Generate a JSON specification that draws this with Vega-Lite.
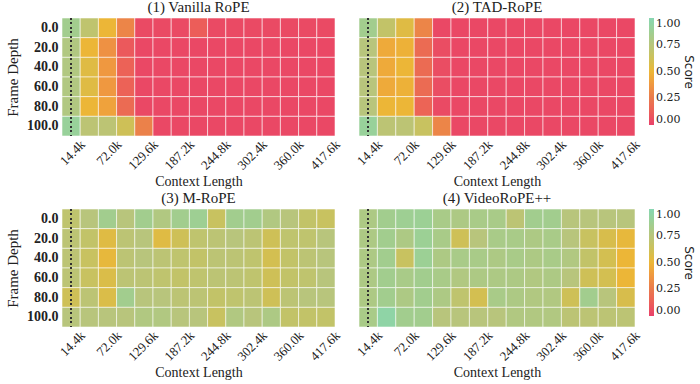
{
  "$schema": "https://vega.github.io/schema/vega-lite/v6.json",
  "padding": {"left": 5, "top": 0, "right": 0, "bottom": 2},
  "background": "white",
  "config": {
    "font": "Liberation Serif",
    "view": {"stroke": null},
    "title": {"font": "Liberation Serif", "fontSize": 15, "fontWeight": "normal", "color": "#222", "offset": 2},
    "axis": {"labelFont": "Liberation Serif", "titleFont": "Liberation Serif", "labelColor": "#222", "titleColor": "#222", "domain": false, "ticks": false, "titleFontWeight": "normal"},
    "legend": {"labelFont": "DejaVu Serif", "titleFont": "DejaVu Sans", "labelColor": "#222", "titleColor": "#222"}
  },
  "datasets": {
    "h": [
      {"p":1,"d":"0.0","c":"14.4k","s":0.85},{"p":1,"d":"0.0","c":"43.2k","s":0.7},{"p":1,"d":"0.0","c":"72.0k","s":0.5},{"p":1,"d":"0.0","c":"100.8k","s":0.3},{"p":1,"d":"0.0","c":"129.6k","s":0.04},{"p":1,"d":"0.0","c":"158.4k","s":0.04},{"p":1,"d":"0.0","c":"187.2k","s":0.04},{"p":1,"d":"0.0","c":"216.0k","s":0.12},{"p":1,"d":"0.0","c":"244.8k","s":0.04},{"p":1,"d":"0.0","c":"273.6k","s":0.04},{"p":1,"d":"0.0","c":"302.4k","s":0.04},{"p":1,"d":"0.0","c":"331.2k","s":0.04},{"p":1,"d":"0.0","c":"360.0k","s":0.04},{"p":1,"d":"0.0","c":"388.8k","s":0.04},{"p":1,"d":"0.0","c":"417.6k","s":0.04},
      {"p":1,"d":"20.0","c":"14.4k","s":0.78},{"p":1,"d":"20.0","c":"43.2k","s":0.5},{"p":1,"d":"20.0","c":"72.0k","s":0.35},{"p":1,"d":"20.0","c":"100.8k","s":0.1},{"p":1,"d":"20.0","c":"129.6k","s":0.03},{"p":1,"d":"20.0","c":"158.4k","s":0.03},{"p":1,"d":"20.0","c":"187.2k","s":0.03},{"p":1,"d":"20.0","c":"216.0k","s":0.03},{"p":1,"d":"20.0","c":"244.8k","s":0.03},{"p":1,"d":"20.0","c":"273.6k","s":0.03},{"p":1,"d":"20.0","c":"302.4k","s":0.03},{"p":1,"d":"20.0","c":"331.2k","s":0.03},{"p":1,"d":"20.0","c":"360.0k","s":0.03},{"p":1,"d":"20.0","c":"388.8k","s":0.03},{"p":1,"d":"20.0","c":"417.6k","s":0.03},
      {"p":1,"d":"40.0","c":"14.4k","s":0.78},{"p":1,"d":"40.0","c":"43.2k","s":0.55},{"p":1,"d":"40.0","c":"72.0k","s":0.38},{"p":1,"d":"40.0","c":"100.8k","s":0.14},{"p":1,"d":"40.0","c":"129.6k","s":0.03},{"p":1,"d":"40.0","c":"158.4k","s":0.03},{"p":1,"d":"40.0","c":"187.2k","s":0.03},{"p":1,"d":"40.0","c":"216.0k","s":0.03},{"p":1,"d":"40.0","c":"244.8k","s":0.03},{"p":1,"d":"40.0","c":"273.6k","s":0.03},{"p":1,"d":"40.0","c":"302.4k","s":0.03},{"p":1,"d":"40.0","c":"331.2k","s":0.03},{"p":1,"d":"40.0","c":"360.0k","s":0.03},{"p":1,"d":"40.0","c":"388.8k","s":0.03},{"p":1,"d":"40.0","c":"417.6k","s":0.03},
      {"p":1,"d":"60.0","c":"14.4k","s":0.78},{"p":1,"d":"60.0","c":"43.2k","s":0.55},{"p":1,"d":"60.0","c":"72.0k","s":0.38},{"p":1,"d":"60.0","c":"100.8k","s":0.14},{"p":1,"d":"60.0","c":"129.6k","s":0.03},{"p":1,"d":"60.0","c":"158.4k","s":0.03},{"p":1,"d":"60.0","c":"187.2k","s":0.03},{"p":1,"d":"60.0","c":"216.0k","s":0.03},{"p":1,"d":"60.0","c":"244.8k","s":0.03},{"p":1,"d":"60.0","c":"273.6k","s":0.03},{"p":1,"d":"60.0","c":"302.4k","s":0.03},{"p":1,"d":"60.0","c":"331.2k","s":0.03},{"p":1,"d":"60.0","c":"360.0k","s":0.03},{"p":1,"d":"60.0","c":"388.8k","s":0.03},{"p":1,"d":"60.0","c":"417.6k","s":0.03},
      {"p":1,"d":"80.0","c":"14.4k","s":0.78},{"p":1,"d":"80.0","c":"43.2k","s":0.5},{"p":1,"d":"80.0","c":"72.0k","s":0.42},{"p":1,"d":"80.0","c":"100.8k","s":0.18},{"p":1,"d":"80.0","c":"129.6k","s":0.03},{"p":1,"d":"80.0","c":"158.4k","s":0.03},{"p":1,"d":"80.0","c":"187.2k","s":0.03},{"p":1,"d":"80.0","c":"216.0k","s":0.03},{"p":1,"d":"80.0","c":"244.8k","s":0.03},{"p":1,"d":"80.0","c":"273.6k","s":0.03},{"p":1,"d":"80.0","c":"302.4k","s":0.03},{"p":1,"d":"80.0","c":"331.2k","s":0.03},{"p":1,"d":"80.0","c":"360.0k","s":0.03},{"p":1,"d":"80.0","c":"388.8k","s":0.03},{"p":1,"d":"80.0","c":"417.6k","s":0.03},
      {"p":1,"d":"100.0","c":"14.4k","s":0.9},{"p":1,"d":"100.0","c":"43.2k","s":0.72},{"p":1,"d":"100.0","c":"72.0k","s":0.72},{"p":1,"d":"100.0","c":"100.8k","s":0.62},{"p":1,"d":"100.0","c":"129.6k","s":0.28},{"p":1,"d":"100.0","c":"158.4k","s":0.03},{"p":1,"d":"100.0","c":"187.2k","s":0.03},{"p":1,"d":"100.0","c":"216.0k","s":0.03},{"p":1,"d":"100.0","c":"244.8k","s":0.03},{"p":1,"d":"100.0","c":"273.6k","s":0.03},{"p":1,"d":"100.0","c":"302.4k","s":0.03},{"p":1,"d":"100.0","c":"331.2k","s":0.03},{"p":1,"d":"100.0","c":"360.0k","s":0.03},{"p":1,"d":"100.0","c":"388.8k","s":0.03},{"p":1,"d":"100.0","c":"417.6k","s":0.03},

      {"p":2,"d":"0.0","c":"14.4k","s":0.85},{"p":2,"d":"0.0","c":"43.2k","s":0.68},{"p":2,"d":"0.0","c":"72.0k","s":0.55},{"p":2,"d":"0.0","c":"100.8k","s":0.3},{"p":2,"d":"0.0","c":"129.6k","s":0.03},{"p":2,"d":"0.0","c":"158.4k","s":0.03},{"p":2,"d":"0.0","c":"187.2k","s":0.03},{"p":2,"d":"0.0","c":"216.0k","s":0.03},{"p":2,"d":"0.0","c":"244.8k","s":0.03},{"p":2,"d":"0.0","c":"273.6k","s":0.03},{"p":2,"d":"0.0","c":"302.4k","s":0.03},{"p":2,"d":"0.0","c":"331.2k","s":0.03},{"p":2,"d":"0.0","c":"360.0k","s":0.03},{"p":2,"d":"0.0","c":"388.8k","s":0.03},{"p":2,"d":"0.0","c":"417.6k","s":0.03},
      {"p":2,"d":"20.0","c":"14.4k","s":0.75},{"p":2,"d":"20.0","c":"43.2k","s":0.45},{"p":2,"d":"20.0","c":"72.0k","s":0.48},{"p":2,"d":"20.0","c":"100.8k","s":0.18},{"p":2,"d":"20.0","c":"129.6k","s":0.05},{"p":2,"d":"20.0","c":"158.4k","s":0.03},{"p":2,"d":"20.0","c":"187.2k","s":0.03},{"p":2,"d":"20.0","c":"216.0k","s":0.03},{"p":2,"d":"20.0","c":"244.8k","s":0.03},{"p":2,"d":"20.0","c":"273.6k","s":0.03},{"p":2,"d":"20.0","c":"302.4k","s":0.03},{"p":2,"d":"20.0","c":"331.2k","s":0.03},{"p":2,"d":"20.0","c":"360.0k","s":0.03},{"p":2,"d":"20.0","c":"388.8k","s":0.03},{"p":2,"d":"20.0","c":"417.6k","s":0.03},
      {"p":2,"d":"40.0","c":"14.4k","s":0.75},{"p":2,"d":"40.0","c":"43.2k","s":0.45},{"p":2,"d":"40.0","c":"72.0k","s":0.5},{"p":2,"d":"40.0","c":"100.8k","s":0.18},{"p":2,"d":"40.0","c":"129.6k","s":0.05},{"p":2,"d":"40.0","c":"158.4k","s":0.03},{"p":2,"d":"40.0","c":"187.2k","s":0.03},{"p":2,"d":"40.0","c":"216.0k","s":0.03},{"p":2,"d":"40.0","c":"244.8k","s":0.03},{"p":2,"d":"40.0","c":"273.6k","s":0.03},{"p":2,"d":"40.0","c":"302.4k","s":0.03},{"p":2,"d":"40.0","c":"331.2k","s":0.03},{"p":2,"d":"40.0","c":"360.0k","s":0.03},{"p":2,"d":"40.0","c":"388.8k","s":0.03},{"p":2,"d":"40.0","c":"417.6k","s":0.03},
      {"p":2,"d":"60.0","c":"14.4k","s":0.75},{"p":2,"d":"60.0","c":"43.2k","s":0.45},{"p":2,"d":"60.0","c":"72.0k","s":0.48},{"p":2,"d":"60.0","c":"100.8k","s":0.18},{"p":2,"d":"60.0","c":"129.6k","s":0.05},{"p":2,"d":"60.0","c":"158.4k","s":0.03},{"p":2,"d":"60.0","c":"187.2k","s":0.03},{"p":2,"d":"60.0","c":"216.0k","s":0.03},{"p":2,"d":"60.0","c":"244.8k","s":0.03},{"p":2,"d":"60.0","c":"273.6k","s":0.03},{"p":2,"d":"60.0","c":"302.4k","s":0.03},{"p":2,"d":"60.0","c":"331.2k","s":0.03},{"p":2,"d":"60.0","c":"360.0k","s":0.03},{"p":2,"d":"60.0","c":"388.8k","s":0.03},{"p":2,"d":"60.0","c":"417.6k","s":0.03},
      {"p":2,"d":"80.0","c":"14.4k","s":0.75},{"p":2,"d":"80.0","c":"43.2k","s":0.5},{"p":2,"d":"80.0","c":"72.0k","s":0.5},{"p":2,"d":"80.0","c":"100.8k","s":0.15},{"p":2,"d":"80.0","c":"129.6k","s":0.04},{"p":2,"d":"80.0","c":"158.4k","s":0.03},{"p":2,"d":"80.0","c":"187.2k","s":0.03},{"p":2,"d":"80.0","c":"216.0k","s":0.03},{"p":2,"d":"80.0","c":"244.8k","s":0.03},{"p":2,"d":"80.0","c":"273.6k","s":0.03},{"p":2,"d":"80.0","c":"302.4k","s":0.03},{"p":2,"d":"80.0","c":"331.2k","s":0.03},{"p":2,"d":"80.0","c":"360.0k","s":0.03},{"p":2,"d":"80.0","c":"388.8k","s":0.03},{"p":2,"d":"80.0","c":"417.6k","s":0.03},
      {"p":2,"d":"100.0","c":"14.4k","s":0.9},{"p":2,"d":"100.0","c":"43.2k","s":0.72},{"p":2,"d":"100.0","c":"72.0k","s":0.72},{"p":2,"d":"100.0","c":"100.8k","s":0.65},{"p":2,"d":"100.0","c":"129.6k","s":0.3},{"p":2,"d":"100.0","c":"158.4k","s":0.03},{"p":2,"d":"100.0","c":"187.2k","s":0.03},{"p":2,"d":"100.0","c":"216.0k","s":0.03},{"p":2,"d":"100.0","c":"244.8k","s":0.03},{"p":2,"d":"100.0","c":"273.6k","s":0.03},{"p":2,"d":"100.0","c":"302.4k","s":0.03},{"p":2,"d":"100.0","c":"331.2k","s":0.03},{"p":2,"d":"100.0","c":"360.0k","s":0.03},{"p":2,"d":"100.0","c":"388.8k","s":0.03},{"p":2,"d":"100.0","c":"417.6k","s":0.03},

      {"p":3,"d":"0.0","c":"14.4k","s":0.7},{"p":3,"d":"0.0","c":"43.2k","s":0.75},{"p":3,"d":"0.0","c":"72.0k","s":0.85},{"p":3,"d":"0.0","c":"100.8k","s":0.75},{"p":3,"d":"0.0","c":"129.6k","s":0.85},{"p":3,"d":"0.0","c":"158.4k","s":0.78},{"p":3,"d":"0.0","c":"187.2k","s":0.85},{"p":3,"d":"0.0","c":"216.0k","s":0.87},{"p":3,"d":"0.0","c":"244.8k","s":0.65},{"p":3,"d":"0.0","c":"273.6k","s":0.85},{"p":3,"d":"0.0","c":"302.4k","s":0.85},{"p":3,"d":"0.0","c":"331.2k","s":0.78},{"p":3,"d":"0.0","c":"360.0k","s":0.75},{"p":3,"d":"0.0","c":"388.8k","s":0.68},{"p":3,"d":"0.0","c":"417.6k","s":0.65},
      {"p":3,"d":"20.0","c":"14.4k","s":0.72},{"p":3,"d":"20.0","c":"43.2k","s":0.68},{"p":3,"d":"20.0","c":"72.0k","s":0.55},{"p":3,"d":"20.0","c":"100.8k","s":0.72},{"p":3,"d":"20.0","c":"129.6k","s":0.75},{"p":3,"d":"20.0","c":"158.4k","s":0.55},{"p":3,"d":"20.0","c":"187.2k","s":0.62},{"p":3,"d":"20.0","c":"216.0k","s":0.7},{"p":3,"d":"20.0","c":"244.8k","s":0.72},{"p":3,"d":"20.0","c":"273.6k","s":0.75},{"p":3,"d":"20.0","c":"302.4k","s":0.72},{"p":3,"d":"20.0","c":"331.2k","s":0.62},{"p":3,"d":"20.0","c":"360.0k","s":0.7},{"p":3,"d":"20.0","c":"388.8k","s":0.7},{"p":3,"d":"20.0","c":"417.6k","s":0.75},
      {"p":3,"d":"40.0","c":"14.4k","s":0.72},{"p":3,"d":"40.0","c":"43.2k","s":0.65},{"p":3,"d":"40.0","c":"72.0k","s":0.52},{"p":3,"d":"40.0","c":"100.8k","s":0.72},{"p":3,"d":"40.0","c":"129.6k","s":0.75},{"p":3,"d":"40.0","c":"158.4k","s":0.72},{"p":3,"d":"40.0","c":"187.2k","s":0.7},{"p":3,"d":"40.0","c":"216.0k","s":0.68},{"p":3,"d":"40.0","c":"244.8k","s":0.72},{"p":3,"d":"40.0","c":"273.6k","s":0.72},{"p":3,"d":"40.0","c":"302.4k","s":0.7},{"p":3,"d":"40.0","c":"331.2k","s":0.6},{"p":3,"d":"40.0","c":"360.0k","s":0.68},{"p":3,"d":"40.0","c":"388.8k","s":0.72},{"p":3,"d":"40.0","c":"417.6k","s":0.75},
      {"p":3,"d":"60.0","c":"14.4k","s":0.72},{"p":3,"d":"60.0","c":"43.2k","s":0.65},{"p":3,"d":"60.0","c":"72.0k","s":0.57},{"p":3,"d":"60.0","c":"100.8k","s":0.72},{"p":3,"d":"60.0","c":"129.6k","s":0.72},{"p":3,"d":"60.0","c":"158.4k","s":0.7},{"p":3,"d":"60.0","c":"187.2k","s":0.68},{"p":3,"d":"60.0","c":"216.0k","s":0.7},{"p":3,"d":"60.0","c":"244.8k","s":0.72},{"p":3,"d":"60.0","c":"273.6k","s":0.72},{"p":3,"d":"60.0","c":"302.4k","s":0.7},{"p":3,"d":"60.0","c":"331.2k","s":0.62},{"p":3,"d":"60.0","c":"360.0k","s":0.68},{"p":3,"d":"60.0","c":"388.8k","s":0.7},{"p":3,"d":"60.0","c":"417.6k","s":0.75},
      {"p":3,"d":"80.0","c":"14.4k","s":0.62},{"p":3,"d":"80.0","c":"43.2k","s":0.72},{"p":3,"d":"80.0","c":"72.0k","s":0.57},{"p":3,"d":"80.0","c":"100.8k","s":0.85},{"p":3,"d":"80.0","c":"129.6k","s":0.75},{"p":3,"d":"80.0","c":"158.4k","s":0.75},{"p":3,"d":"80.0","c":"187.2k","s":0.72},{"p":3,"d":"80.0","c":"216.0k","s":0.72},{"p":3,"d":"80.0","c":"244.8k","s":0.68},{"p":3,"d":"80.0","c":"273.6k","s":0.7},{"p":3,"d":"80.0","c":"302.4k","s":0.72},{"p":3,"d":"80.0","c":"331.2k","s":0.62},{"p":3,"d":"80.0","c":"360.0k","s":0.72},{"p":3,"d":"80.0","c":"388.8k","s":0.75},{"p":3,"d":"80.0","c":"417.6k","s":0.75},
      {"p":3,"d":"100.0","c":"14.4k","s":0.75},{"p":3,"d":"100.0","c":"43.2k","s":0.75},{"p":3,"d":"100.0","c":"72.0k","s":0.75},{"p":3,"d":"100.0","c":"100.8k","s":0.75},{"p":3,"d":"100.0","c":"129.6k","s":0.78},{"p":3,"d":"100.0","c":"158.4k","s":0.78},{"p":3,"d":"100.0","c":"187.2k","s":0.75},{"p":3,"d":"100.0","c":"216.0k","s":0.75},{"p":3,"d":"100.0","c":"244.8k","s":0.65},{"p":3,"d":"100.0","c":"273.6k","s":0.78},{"p":3,"d":"100.0","c":"302.4k","s":0.75},{"p":3,"d":"100.0","c":"331.2k","s":0.8},{"p":3,"d":"100.0","c":"360.0k","s":0.68},{"p":3,"d":"100.0","c":"388.8k","s":0.68},{"p":3,"d":"100.0","c":"417.6k","s":0.68},

      {"p":4,"d":"0.0","c":"14.4k","s":0.8},{"p":4,"d":"0.0","c":"43.2k","s":0.85},{"p":4,"d":"0.0","c":"72.0k","s":0.87},{"p":4,"d":"0.0","c":"100.8k","s":0.88},{"p":4,"d":"0.0","c":"129.6k","s":0.82},{"p":4,"d":"0.0","c":"158.4k","s":0.8},{"p":4,"d":"0.0","c":"187.2k","s":0.82},{"p":4,"d":"0.0","c":"216.0k","s":0.82},{"p":4,"d":"0.0","c":"244.8k","s":0.72},{"p":4,"d":"0.0","c":"273.6k","s":0.85},{"p":4,"d":"0.0","c":"302.4k","s":0.85},{"p":4,"d":"0.0","c":"331.2k","s":0.75},{"p":4,"d":"0.0","c":"360.0k","s":0.75},{"p":4,"d":"0.0","c":"388.8k","s":0.75},{"p":4,"d":"0.0","c":"417.6k","s":0.75},
      {"p":4,"d":"20.0","c":"14.4k","s":0.8},{"p":4,"d":"20.0","c":"43.2k","s":0.85},{"p":4,"d":"20.0","c":"72.0k","s":0.8},{"p":4,"d":"20.0","c":"100.8k","s":0.88},{"p":4,"d":"20.0","c":"129.6k","s":0.82},{"p":4,"d":"20.0","c":"158.4k","s":0.62},{"p":4,"d":"20.0","c":"187.2k","s":0.75},{"p":4,"d":"20.0","c":"216.0k","s":0.82},{"p":4,"d":"20.0","c":"244.8k","s":0.82},{"p":4,"d":"20.0","c":"273.6k","s":0.8},{"p":4,"d":"20.0","c":"302.4k","s":0.82},{"p":4,"d":"20.0","c":"331.2k","s":0.75},{"p":4,"d":"20.0","c":"360.0k","s":0.65},{"p":4,"d":"20.0","c":"388.8k","s":0.58},{"p":4,"d":"20.0","c":"417.6k","s":0.52},
      {"p":4,"d":"40.0","c":"14.4k","s":0.8},{"p":4,"d":"40.0","c":"43.2k","s":0.85},{"p":4,"d":"40.0","c":"72.0k","s":0.65},{"p":4,"d":"40.0","c":"100.8k","s":0.88},{"p":4,"d":"40.0","c":"129.6k","s":0.8},{"p":4,"d":"40.0","c":"158.4k","s":0.82},{"p":4,"d":"40.0","c":"187.2k","s":0.82},{"p":4,"d":"40.0","c":"216.0k","s":0.8},{"p":4,"d":"40.0","c":"244.8k","s":0.82},{"p":4,"d":"40.0","c":"273.6k","s":0.8},{"p":4,"d":"40.0","c":"302.4k","s":0.82},{"p":4,"d":"40.0","c":"331.2k","s":0.78},{"p":4,"d":"40.0","c":"360.0k","s":0.68},{"p":4,"d":"40.0","c":"388.8k","s":0.6},{"p":4,"d":"40.0","c":"417.6k","s":0.5},
      {"p":4,"d":"60.0","c":"14.4k","s":0.8},{"p":4,"d":"60.0","c":"43.2k","s":0.85},{"p":4,"d":"60.0","c":"72.0k","s":0.82},{"p":4,"d":"60.0","c":"100.8k","s":0.85},{"p":4,"d":"60.0","c":"129.6k","s":0.82},{"p":4,"d":"60.0","c":"158.4k","s":0.78},{"p":4,"d":"60.0","c":"187.2k","s":0.8},{"p":4,"d":"60.0","c":"216.0k","s":0.8},{"p":4,"d":"60.0","c":"244.8k","s":0.8},{"p":4,"d":"60.0","c":"273.6k","s":0.78},{"p":4,"d":"60.0","c":"302.4k","s":0.8},{"p":4,"d":"60.0","c":"331.2k","s":0.75},{"p":4,"d":"60.0","c":"360.0k","s":0.62},{"p":4,"d":"60.0","c":"388.8k","s":0.6},{"p":4,"d":"60.0","c":"417.6k","s":0.5},
      {"p":4,"d":"80.0","c":"14.4k","s":0.8},{"p":4,"d":"80.0","c":"43.2k","s":0.85},{"p":4,"d":"80.0","c":"72.0k","s":0.8},{"p":4,"d":"80.0","c":"100.8k","s":0.85},{"p":4,"d":"80.0","c":"129.6k","s":0.8},{"p":4,"d":"80.0","c":"158.4k","s":0.7},{"p":4,"d":"80.0","c":"187.2k","s":0.6},{"p":4,"d":"80.0","c":"216.0k","s":0.82},{"p":4,"d":"80.0","c":"244.8k","s":0.8},{"p":4,"d":"80.0","c":"273.6k","s":0.78},{"p":4,"d":"80.0","c":"302.4k","s":0.78},{"p":4,"d":"80.0","c":"331.2k","s":0.62},{"p":4,"d":"80.0","c":"360.0k","s":0.85},{"p":4,"d":"80.0","c":"388.8k","s":0.75},{"p":4,"d":"80.0","c":"417.6k","s":0.58},
      {"p":4,"d":"100.0","c":"14.4k","s":0.82},{"p":4,"d":"100.0","c":"43.2k","s":0.95},{"p":4,"d":"100.0","c":"72.0k","s":0.85},{"p":4,"d":"100.0","c":"100.8k","s":0.85},{"p":4,"d":"100.0","c":"129.6k","s":0.75},{"p":4,"d":"100.0","c":"158.4k","s":0.75},{"p":4,"d":"100.0","c":"187.2k","s":0.75},{"p":4,"d":"100.0","c":"216.0k","s":0.75},{"p":4,"d":"100.0","c":"244.8k","s":0.78},{"p":4,"d":"100.0","c":"273.6k","s":0.78},{"p":4,"d":"100.0","c":"302.4k","s":0.78},{"p":4,"d":"100.0","c":"331.2k","s":0.72},{"p":4,"d":"100.0","c":"360.0k","s":0.72},{"p":4,"d":"100.0","c":"388.8k","s":0.72},{"p":4,"d":"100.0","c":"417.6k","s":0.72}
    ]
  },
  "columns": 2,
  "spacing": {"column": 11, "row": 2},
  "resolve": {"scale": {"color": "independent"}},
  "concat": [
    {
      "title": "(1) Vanilla RoPE",
      "width": 273, "height": 118,
      "data": {"name": "h"},
      "transform": [{"filter": "datum.p == 1"}],
      "layer": [
        {"mark": {"type": "rect", "stroke": "#ffffff", "strokeWidth": 1, "strokeOpacity": 0.55},
         "encoding": {
          "x": {"field": "c", "type": "nominal", "sort": ["14.4k","43.2k","72.0k","100.8k","129.6k","158.4k","187.2k","216.0k","244.8k","273.6k","302.4k","331.2k","360.0k","388.8k","417.6k"], "scale": {"paddingInner": 0, "paddingOuter": 0}, "axis": {"title": "Context Length", "titleFontSize": 14, "titlePadding": 2, "values": ["14.4k","72.0k","129.6k","187.2k","244.8k","302.4k","360.0k","417.6k"], "labelAngle": -45, "labelAlign": "right", "labelBaseline": "middle", "labelOffset": 12, "labelPadding": 6, "labelFontSize": 13}},
          "y": {"field": "d", "type": "nominal", "sort": ["0.0","20.0","40.0","60.0","80.0","100.0"], "scale": {"paddingInner": 0, "paddingOuter": 0}, "axis": {"title": "Frame Depth", "titleFontSize": 15, "labelFontSize": 14, "labelFontWeight": "bold", "labelPadding": 4, "titlePadding": 6}},
          "color": {"field": "s", "type": "quantitative", "scale": {"domain": [0, 0.25, 0.5, 0.75, 1], "range": ["#e8416a", "#e97a4d", "#ecb637", "#b8c57c", "#88d6b2"]}, "legend": null}
        }},
        {"mark": {"type": "rule", "color": "#333", "strokeDash": [1.5, 3], "strokeWidth": 1.2},
         "encoding": {"x": {"datum": "14.4k", "type": "nominal"}}}
      ]
    },
    {
      "title": "(2) TAD-RoPE",
      "width": 276, "height": 118,
      "data": {"name": "h"},
      "transform": [{"filter": "datum.p == 2"}],
      "layer": [
        {"mark": {"type": "rect", "stroke": "#ffffff", "strokeWidth": 1, "strokeOpacity": 0.55},
         "encoding": {
          "x": {"field": "c", "type": "nominal", "sort": ["14.4k","43.2k","72.0k","100.8k","129.6k","158.4k","187.2k","216.0k","244.8k","273.6k","302.4k","331.2k","360.0k","388.8k","417.6k"], "scale": {"paddingInner": 0, "paddingOuter": 0}, "axis": {"title": "Context Length", "titleFontSize": 14, "titlePadding": 2, "values": ["14.4k","72.0k","129.6k","187.2k","244.8k","302.4k","360.0k","417.6k"], "labelAngle": -45, "labelAlign": "right", "labelBaseline": "middle", "labelOffset": 12, "labelPadding": 6, "labelFontSize": 13}},
          "y": {"field": "d", "type": "nominal", "sort": ["0.0","20.0","40.0","60.0","80.0","100.0"], "scale": {"paddingInner": 0, "paddingOuter": 0}, "axis": null},
          "color": {"field": "s", "type": "quantitative", "scale": {"domain": [0, 0.25, 0.5, 0.75, 1], "range": ["#e8416a", "#e97a4d", "#ecb637", "#b8c57c", "#88d6b2"]}, "legend": {"title": "Score", "values": [0, 0.25, 0.5, 0.75, 1], "format": ".2f", "gradientLength": 107, "gradientThickness": 5, "gradientStrokeWidth": 0, "labelFontSize": 11, "labelOffset": 2, "titleFontSize": 12, "titleFontWeight": "normal", "titleOrient": "right", "titleAnchor": "middle", "titlePadding": 2, "offset": 14, "padding": 0, "encoding": {"title": {"update": {"angle": {"value": -90}, "baseline": {"value": "top"}}}}}}
        }},
        {"mark": {"type": "rule", "color": "#333", "strokeDash": [1.5, 3], "strokeWidth": 1.2},
         "encoding": {"x": {"datum": "14.4k", "type": "nominal"}}}
      ]
    },
    {
      "title": "(3) M-RoPE",
      "width": 273, "height": 118,
      "data": {"name": "h"},
      "transform": [{"filter": "datum.p == 3"}],
      "layer": [
        {"mark": {"type": "rect", "stroke": "#ffffff", "strokeWidth": 1, "strokeOpacity": 0.55},
         "encoding": {
          "x": {"field": "c", "type": "nominal", "sort": ["14.4k","43.2k","72.0k","100.8k","129.6k","158.4k","187.2k","216.0k","244.8k","273.6k","302.4k","331.2k","360.0k","388.8k","417.6k"], "scale": {"paddingInner": 0, "paddingOuter": 0}, "axis": {"title": "Context Length", "titleFontSize": 14, "titlePadding": 2, "values": ["14.4k","72.0k","129.6k","187.2k","244.8k","302.4k","360.0k","417.6k"], "labelAngle": -45, "labelAlign": "right", "labelBaseline": "middle", "labelOffset": 12, "labelPadding": 6, "labelFontSize": 13}},
          "y": {"field": "d", "type": "nominal", "sort": ["0.0","20.0","40.0","60.0","80.0","100.0"], "scale": {"paddingInner": 0, "paddingOuter": 0}, "axis": {"title": "Frame Depth", "titleFontSize": 15, "labelFontSize": 14, "labelFontWeight": "bold", "labelPadding": 4, "titlePadding": 6}},
          "color": {"field": "s", "type": "quantitative", "scale": {"domain": [0, 0.25, 0.5, 0.75, 1], "range": ["#e8416a", "#e97a4d", "#ecb637", "#b8c57c", "#88d6b2"]}, "legend": null}
        }},
        {"mark": {"type": "rule", "color": "#333", "strokeDash": [1.5, 3], "strokeWidth": 1.2},
         "encoding": {"x": {"datum": "14.4k", "type": "nominal"}}}
      ]
    },
    {
      "title": "(4) VideoRoPE++",
      "width": 276, "height": 118,
      "data": {"name": "h"},
      "transform": [{"filter": "datum.p == 4"}],
      "layer": [
        {"mark": {"type": "rect", "stroke": "#ffffff", "strokeWidth": 1, "strokeOpacity": 0.55},
         "encoding": {
          "x": {"field": "c", "type": "nominal", "sort": ["14.4k","43.2k","72.0k","100.8k","129.6k","158.4k","187.2k","216.0k","244.8k","273.6k","302.4k","331.2k","360.0k","388.8k","417.6k"], "scale": {"paddingInner": 0, "paddingOuter": 0}, "axis": {"title": "Context Length", "titleFontSize": 14, "titlePadding": 2, "values": ["14.4k","72.0k","129.6k","187.2k","244.8k","302.4k","360.0k","417.6k"], "labelAngle": -45, "labelAlign": "right", "labelBaseline": "middle", "labelOffset": 12, "labelPadding": 6, "labelFontSize": 13}},
          "y": {"field": "d", "type": "nominal", "sort": ["0.0","20.0","40.0","60.0","80.0","100.0"], "scale": {"paddingInner": 0, "paddingOuter": 0}, "axis": null},
          "color": {"field": "s", "type": "quantitative", "scale": {"domain": [0, 0.25, 0.5, 0.75, 1], "range": ["#e8416a", "#e97a4d", "#ecb637", "#b8c57c", "#88d6b2"]}, "legend": {"title": "Score", "values": [0, 0.25, 0.5, 0.75, 1], "format": ".2f", "gradientLength": 107, "gradientThickness": 5, "gradientStrokeWidth": 0, "labelFontSize": 11, "labelOffset": 2, "titleFontSize": 12, "titleFontWeight": "normal", "titleOrient": "right", "titleAnchor": "middle", "titlePadding": 2, "offset": 14, "padding": 0, "encoding": {"title": {"update": {"angle": {"value": -90}, "baseline": {"value": "top"}}}}}}
        }},
        {"mark": {"type": "rule", "color": "#333", "strokeDash": [1.5, 3], "strokeWidth": 1.2},
         "encoding": {"x": {"datum": "14.4k", "type": "nominal"}}}
      ]
    }
  ]
}
